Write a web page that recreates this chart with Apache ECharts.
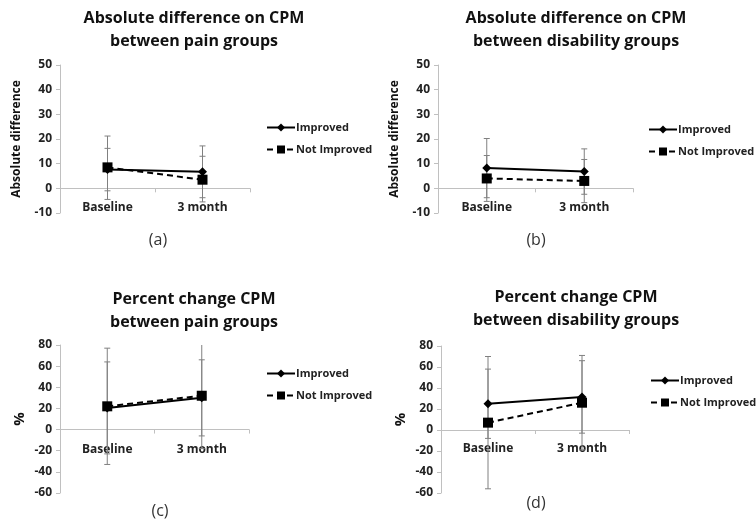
<!DOCTYPE html>
<html><head><meta charset="utf-8">
<script src="https://cdn.jsdelivr.net/npm/echarts@6/dist/echarts.min.js"></script>
<style>html,body{margin:0;padding:0;background:#fff}#c{width:756px;height:525px}</style>
</head><body><div id="c"></div>
<script>
const categories = ['Baseline', '3 month'];
const seriesNames = ['Improved', 'Not Improved'];
const titles = ['Absolute difference on CPM\nbetween pain groups', 'Absolute difference on CPM\nbetween disability groups',
  'Percent change CPM\nbetween pain groups', 'Percent change CPM\nbetween disability groups'];
const panelLabels = ['(a)', '(b)', '(c)', '(d)'];
const yNames = ['Absolute difference', 'Absolute difference', '%', '%'];

// panel (a)
const aImproved = [7.6, 6.7], aImprovedLow = [-1.0, -3.8], aImprovedHigh = [16.2, 17.2];
const aNotImproved = [8.5, 3.5], aNotImprovedLow = [-4.5, -5.5], aNotImprovedHigh = [21.2, 13.0];
// panel (b)
const bImproved = [8.2, 6.8], bImprovedLow = [-3.8, -2.4], bImprovedHigh = [20.2, 16.0];
const bNotImproved = [4.0, 3.0], bNotImprovedLow = [-5.3, -5.8], bNotImprovedHigh = [13.3, 11.7];
// panel (c)
const cImproved = [20.5, 30.0], cImprovedLow = [-23, -6], cImprovedHigh = [64, 66];
const cNotImproved = [22.0, 32.0], cNotImprovedLow = [-33, -18], cNotImprovedHigh = [77, 82];
// panel (d)
const dImproved = [25.0, 31.5], dImprovedLow = [-8, -3], dImprovedHigh = [58, 66];
const dNotImproved = [7.0, 26.0], dNotImprovedLow = [-56, -19], dNotImprovedHigh = [70, 71];

const yRanges = [[-10, 50, 10], [-10, 50, 10], [-60, 80, 20], [-60, 80, 20]];

const panels = [
  [[aImproved, aImprovedLow, aImprovedHigh], [aNotImproved, aNotImprovedLow, aNotImprovedHigh]],
  [[bImproved, bImprovedLow, bImprovedHigh], [bNotImproved, bNotImprovedLow, bNotImprovedHigh]],
  [[cImproved, cImprovedLow, cImprovedHigh], [cNotImproved, cNotImprovedLow, cNotImprovedHigh]],
  [[dImproved, dImprovedLow, dImprovedHigh], [dNotImproved, dNotImprovedLow, dNotImprovedHigh]]
];

const FONT = 'Open Sans';
const grids = [
  {left: 60, top: 65, width: 190, height: 148},
  {left: 438, top: 65, width: 195, height: 148},
  {left: 60, top: 345, width: 189, height: 148},
  {left: 441, top: 346, width: 188, height: 147}
];
const titlePos = [[189, 2], [571, 2], [189, 283], [571, 281]];
const labelPos = [[153, 227], [531, 227], [155, 498], [531, 490]];
const legendPos = [[266, 122], [648, 124], [266, 368], [650, 375]];
const xLabelMargin = [-11, -11, -49, -50];
const yNameGap = [37, 37, 33, 33];

const option = {
  backgroundColor: '#fff',
  animation: false,
  textStyle: {fontFamily: FONT},
  title: [],
  legend: [],
  grid: grids,
  xAxis: [],
  yAxis: [],
  series: []
};

for (let p = 0; p < 4; p++) {
  option.title.push({
    text: titles[p], left: titlePos[p][0], top: titlePos[p][1], textAlign: 'center',
    textStyle: {fontFamily: FONT, fontSize: 16, fontWeight: 'bold', color: '#111', lineHeight: 23}
  });
  option.title.push({
    text: panelLabels[p], left: labelPos[p][0], top: labelPos[p][1], textAlign: 'center',
    textStyle: {fontFamily: FONT, fontSize: 16, fontWeight: 'normal', color: '#333'}
  });
  option.legend.push({
    data: seriesNames, orient: 'vertical', left: legendPos[p][0], top: legendPos[p][1],
    itemWidth: 28, itemHeight: 10, itemGap: 11, padding: 0,
    textStyle: {fontFamily: FONT, fontSize: 11, fontWeight: 'bold', color: '#222', padding: [0, 0, 0, -4]}
  });
  option.xAxis.push({
    type: 'category', gridIndex: p, data: categories,
    axisLine: {onZero: true, lineStyle: {color: '#c0c0c0', width: 1}},
    axisTick: {show: true, length: 4, lineStyle: {color: '#c0c0c0'}},
    axisLabel: {fontFamily: FONT, fontSize: 12, fontWeight: 'bold', color: '#222', margin: xLabelMargin[p]},
    splitLine: {show: false}
  });
  option.yAxis.push({
    type: 'value', gridIndex: p, min: yRanges[p][0], max: yRanges[p][1], interval: yRanges[p][2],
    name: yNames[p], nameLocation: 'middle', nameGap: yNameGap[p],
    nameTextStyle: {fontFamily: FONT, fontSize: p < 2 ? 12 : 15, fontWeight: 'bold', color: '#111'},
    axisLine: {show: true, lineStyle: {color: '#c0c0c0', width: 1}},
    axisTick: {show: true, length: 4, lineStyle: {color: '#c0c0c0'}},
    axisLabel: {fontFamily: FONT, fontSize: 12, fontWeight: 'bold', color: '#222', margin: 8},
    splitLine: {show: false}
  });
  for (let s = 0; s < 2; s++) {
    const [vals, lows, highs] = panels[p][s];
    option.series.push({
      type: 'custom', name: 'err' + p + s, xAxisIndex: p, yAxisIndex: p, z: 1, clip: true,
      data: categories.map((c, i) => [i, lows[i], highs[i]]),
      renderItem: function (params, api) {
        const lo = api.coord([api.value(0), api.value(1)]);
        const hi = api.coord([api.value(0), api.value(2)]);
        const hw = 3;
        const st = {stroke: '#808080', lineWidth: 1};
        return {type: 'group', children: [
          {type: 'line', shape: {x1: lo[0], y1: lo[1], x2: hi[0], y2: hi[1]}, style: st},
          {type: 'line', shape: {x1: lo[0] - hw, y1: lo[1], x2: lo[0] + hw, y2: lo[1]}, style: st},
          {type: 'line', shape: {x1: hi[0] - hw, y1: hi[1], x2: hi[0] + hw, y2: hi[1]}, style: st}
        ]};
      }
    });
  }
  for (let s = 0; s < 2; s++) {
    const vals = panels[p][s][0];
    option.series.push({
      type: 'line', name: seriesNames[s], xAxisIndex: p, yAxisIndex: p, z: 3,
      data: vals,
      symbol: s === 0 ? 'diamond' : 'rect', symbolSize: s === 0 ? 9 : 10,
      itemStyle: {color: '#000'},
      lineStyle: {color: '#000', width: 2, type: s === 0 ? 'solid' : [6, 4]}
    });
  }
}

const chart = echarts.init(document.getElementById('c'), null, {renderer: 'canvas'});
chart.setOption(option);
</script>
</body></html>
